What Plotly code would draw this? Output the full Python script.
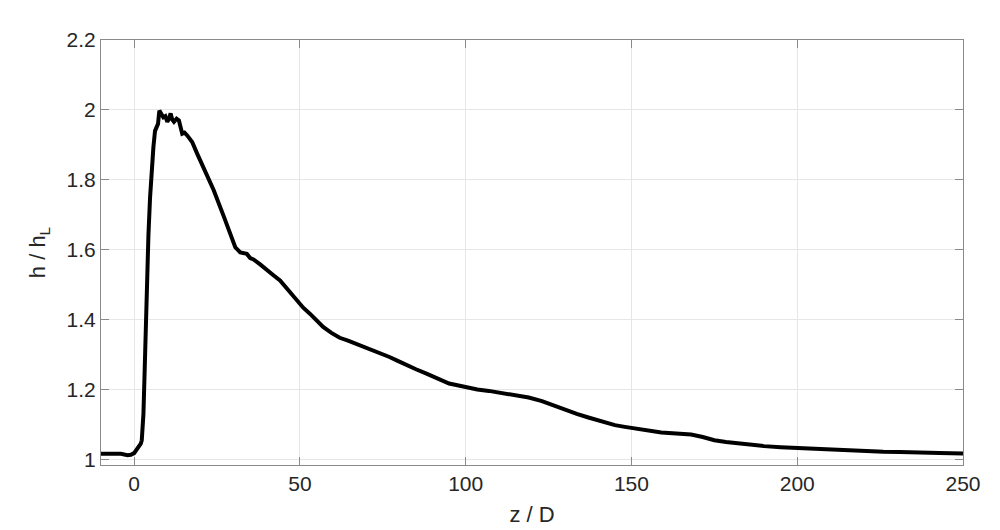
import plotly.graph_objects as go

z_d = [-10, -8, -6, -4, -2, -1, 0, 1, 2, 2.3, 2.8, 3.1, 3.5, 3.8, 4.3, 4.8, 5.3, 5.8, 6.3, 6.8, 7.2, 7.6, 8.2, 8.8, 9.4, 10, 10.5, 11, 11.5, 12, 12.8, 13.5, 14.5, 15.2, 16, 17.5, 19, 20, 22, 24, 27, 30, 30.5, 32, 34, 35, 36, 38, 40, 42, 44, 46.5, 49, 51, 53, 55, 57, 59.5, 62, 64.5, 67, 69.5, 72, 74.5, 77, 79.5, 82, 85, 88, 90.5, 93, 95, 97.5, 100, 103.5, 107, 111, 115, 119, 123, 126.5, 130, 133.5, 137, 141, 145, 148, 151, 155, 159, 163.5, 168, 171.5, 175, 178.5, 182, 186, 190, 195, 200, 204, 208, 212, 216, 221, 226, 231, 236, 243, 250]
h_hl = [1.016, 1.016, 1.015, 1.016, 1.012, 1.013, 1.018, 1.03, 1.045, 1.055, 1.13, 1.23, 1.38, 1.51, 1.64, 1.75, 1.83, 1.893, 1.94, 1.955, 1.96, 1.998, 1.985, 1.979, 1.982, 1.966, 1.975, 1.99, 1.972, 1.966, 1.975, 1.97, 1.932, 1.935, 1.927, 1.908, 1.875, 1.855, 1.81, 1.77, 1.696, 1.625, 1.607, 1.592, 1.588, 1.576, 1.572, 1.558, 1.541, 1.527, 1.512, 1.485, 1.455, 1.434, 1.417, 1.397, 1.379, 1.362, 1.348, 1.34, 1.331, 1.322, 1.314, 1.305, 1.293, 1.282, 1.27, 1.258, 1.246, 1.236, 1.227, 1.217, 1.212, 1.206, 1.2, 1.196, 1.19, 1.182, 1.177, 1.167, 1.155, 1.14, 1.13, 1.12, 1.108, 1.098, 1.093, 1.088, 1.083, 1.077, 1.074, 1.071, 1.064, 1.055, 1.05, 1.046, 1.042, 1.038, 1.035, 1.033, 1.031, 1.029, 1.027, 1.024, 1.023, 1.022, 1.021, 1.019, 1.018, 1.017]

x_ticks = [0, 50, 100, 150, 200, 250]
x_ticktext = ["0", "50", "100", "150", "200", "250"]
y_ticks = [1.0, 1.2, 1.4, 1.6, 1.8, 2.0, 2.2]
y_ticktext = ["1", "1.2", "1.4", "1.6", "1.8", "2", "2.2"]

FONT = "Liberation Sans"

fig = go.Figure()
fig.add_trace(go.Scatter(x=z_d, y=h_hl, mode="lines",
                         line=dict(color="black", width=4), showlegend=False))

axis_common = dict(
    showline=True, linecolor="#8a8a8a", linewidth=1, mirror="ticks",
    ticks="inside", ticklen=8, tickcolor="#8a8a8a", tickwidth=1,
    showgrid=True, gridcolor="#e6e6e6", gridwidth=1, zeroline=False,
    tickfont=dict(family=FONT, size=21, color="#262626"),
)

fig.update_layout(
    width=1000, height=530,
    margin=dict(l=93, r=45, t=32, b=73),
    paper_bgcolor="white", plot_bgcolor="white",
    font=dict(family=FONT, color="#262626"),
    xaxis=dict(range=[-10, 250], tickvals=x_ticks, ticktext=x_ticktext,
               title=dict(text="z / D", font=dict(family=FONT, size=22, color="#262626"), standoff=12),
               **axis_common),
    yaxis=dict(range=[0.984, 2.2], tickvals=y_ticks, ticktext=y_ticktext,
               title=dict(text="h / h<sub>L</sub>", font=dict(family=FONT, size=22, color="#262626"), standoff=14),
               **axis_common),
)

fig.write_html("out.html")
